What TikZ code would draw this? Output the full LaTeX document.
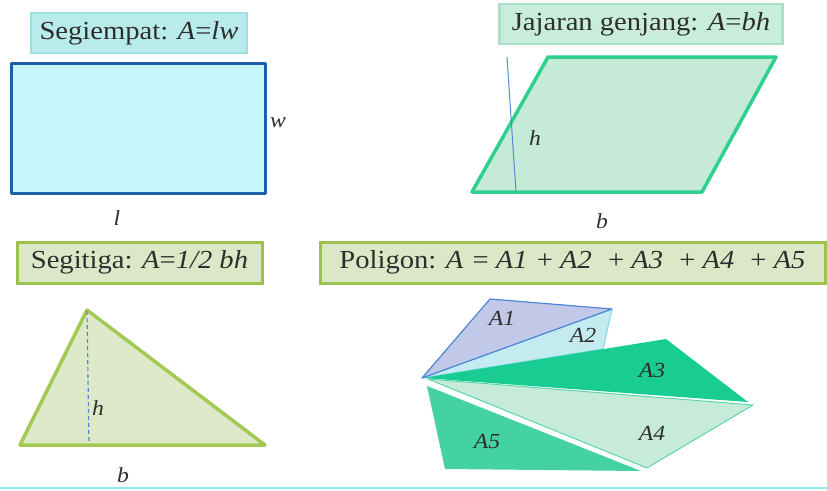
\documentclass[tikz,border=0pt]{standalone}
\usepackage{fontspec}
\setmainfont{Liberation Serif}[FakeStretch=1.1]
\definecolor{textc}{HTML}{2E2E2E}
\definecolor{tafill}{HTML}{B8ECEC}
\definecolor{tadraw}{HTML}{9EE0E0}
\definecolor{recfill}{HTML}{C8F7FB}
\definecolor{recdraw}{HTML}{1F5FA6}
\definecolor{tbfill}{HTML}{C8EEDB}
\definecolor{tbdraw}{HTML}{A8E0C8}
\definecolor{parfill}{HTML}{C5EAD8}
\definecolor{pardraw}{HTML}{2DD08F}
\definecolor{tcfill}{HTML}{DBE7C6}
\definecolor{tcdraw}{HTML}{9DC24F}
\definecolor{trifill}{HTML}{DDE9C9}
\definecolor{tridraw}{HTML}{A3C955}
\definecolor{hblue}{HTML}{5A84D4}
\definecolor{aonefill}{HTML}{C2C8E8}
\definecolor{aonedraw}{HTML}{4D86D6}
\definecolor{atwofill}{HTML}{C4ECF0}
\definecolor{atwodraw}{HTML}{8ADBE8}
\definecolor{athree}{HTML}{19CC92}
\definecolor{afourfill}{HTML}{C6ECD9}
\definecolor{afourdraw}{HTML}{5DD5A9}
\definecolor{afive}{HTML}{45D2A3}
\definecolor{rulecol}{HTML}{90E8F0}
\tikzset{
  titlebox/.style={rectangle, inner sep=0pt, font=\fontsize{26}{30}\selectfont, text=textc, line width=2.5pt},
  lbl/.style={inner sep=0pt, font=\fontsize{21.5}{24}\selectfont\itshape, text=textc},
  shapeline/.style={line width=3.5pt, line join=round},
}
\begin{document}
\begin{tikzpicture}[x=1pt,y=-1pt]
\useasboundingbox (0,0) rectangle (827,490);

% titles
\node[titlebox, fill=tafill, draw=tadraw, minimum width=216, minimum height=40] (t1) at (139,33) {Segiempat: \textit{A}=\textit{lw}};
\node[titlebox, fill=tbfill, draw=tbdraw, minimum width=283, minimum height=40] (t2) at (641,24) {Jajaran genjang: \textit{A}=\textit{bh}};
\node[titlebox, fill=tcfill, draw=tcdraw, line width=3pt, minimum width=245, minimum height=41] (t3) at (139.5,262.5) {Segitiga: \textit{A}=\textit{1/2 bh}};
\node[titlebox, fill=tcfill, draw=tcdraw, line width=3pt, minimum width=505, minimum height=41] (t4) at (572.5,262.5) {Poligon: \textit{A}\hspace{2pt} = \textit{A1}\hspace{2pt} + \textit{A2}\hspace{9pt} + \textit{A3}\hspace{9pt} + \textit{A4}\hspace{9pt} + \textit{A5}};

% rectangle
\draw[shapeline, line width=3pt, fill=recfill, draw=recdraw] (11,63) rectangle (265,193);
\node[lbl] (w) at (278,123) {w};
\node[lbl] (l) at (117,218) {l};

% parallelogram
\draw[shapeline, fill=parfill, draw=pardraw] (548,57) -- (776,57) -- (702,192) -- (472,192) -- cycle;
\coordinate (ht) at (507,57);
\coordinate (hb) at (516,192);
\draw[hblue, line width=1pt] (ht) -- (hb);
\node[lbl] (h1) at (535,138) {h};
\node[lbl] (b1) at (602,221) {b};

% triangle
\draw[shapeline, fill=trifill, draw=tridraw] (87,310) -- (265,445) -- (20,445) -- cycle;
\coordinate (tt) at (87,311);
\coordinate (tb) at (89,444);
\draw[hblue, line width=1.2pt, dash pattern=on 4pt off 3pt] (tt) -- (tb);
\node[lbl] (h2) at (98,408) {h};
\node[lbl] (b2) at (123,475) {b};

% polygon
\draw[fill=atwofill, draw=atwodraw, line width=1.2pt, line join=round] (422,378) -- (612,309) -- (603,349) -- cycle;
\draw[fill=aonefill, draw=aonedraw, line width=1.2pt, line join=round] (422,378) -- (490,299) -- (612,309) -- cycle;
\fill[athree] (423,378) -- (666,339) -- (748,402) -- cycle;
\draw[fill=afourfill, draw=afourdraw, line width=1pt, line join=round] (428,379) -- (753,405) -- (647,468) -- cycle;
\fill[afive] (427,386) -- (641,471) -- (445,469) -- cycle;
\node[lbl] (a1) at (502,318) {A1};
\node[lbl] (a2) at (583,335) {A2};
\node[lbl] (a3) at (652,370) {A3};
\node[lbl] (a4) at (652,433) {A4};
\node[lbl] (a5) at (487,442) {A5};

% bottom rule
\coordinate (bl) at (0,487.5);
\coordinate (br) at (827,487.5);
\draw[rulecol, line width=2pt] (bl) -- (br);
\end{tikzpicture}
\end{document}
